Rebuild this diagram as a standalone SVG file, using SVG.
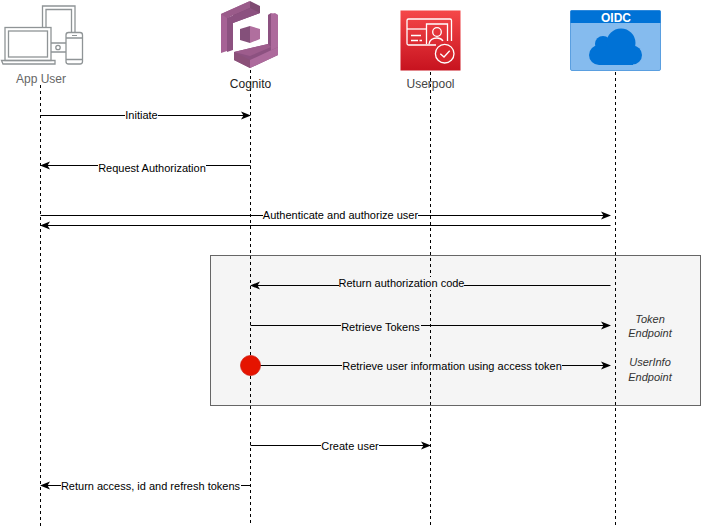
<svg xmlns="http://www.w3.org/2000/svg" width="702" height="528" viewBox="0 0 702 528">
<style>
text{font-family:"Liberation Sans",Arial,sans-serif;font-size:11px;text-anchor:middle}
.life{stroke:#000;stroke-width:1;stroke-dasharray:3 3;fill:none}
.msg{stroke:#000;stroke-width:1;fill:none;marker-end:url(#arrow)}
.lab{fill:#000;stroke:none}
.dev{fill:none;stroke:#8f9496;stroke-width:1.300}
.ep{font-style:italic;font-size:11px;fill:#333}
</style>
<defs>
<marker id="arrow" viewBox="0 0 10 10" refX="9" refY="5" markerWidth="10" markerHeight="10" markerUnits="userSpaceOnUse" orient="auto"><path d="M0 1L10 5L0 9L2.500 5Z" fill="#000"/></marker>
<linearGradient id="red" x1="0" y1="0" x2="0" y2="1"><stop offset="0" stop-color="#f54749"/><stop offset="1" stop-color="#c7131f"/></linearGradient>
</defs>
<rect width="702" height="528" fill="#fff"/>
<g id="highlight-box"><rect x="210.500" y="255.500" width="490" height="150" fill="#f5f5f5" stroke="#666"/></g>
<g id="lifelines">
<path class="life" d="M40.500 85V526"/>
<path class="life" d="M250.500 70V526"/>
<path class="life" d="M430.500 72V526"/>
<path class="life" d="M615.500 72V526"/>
</g>
<g id="app-user">
<path class="dev" d="M42.500 27V6H75V32M46 27V9.500H71.500V32"/>
<rect class="dev" x="5" y="27.500" width="46" height="33"/>
<rect class="dev" x="8.500" y="31" width="39" height="26"/>
<path class="dev" d="M1.500 60.500H55V64H3Z"/>
<path class="dev" d="M51 43H66M51 52H66"/>
<circle class="dev" cx="58" cy="47.500" r="2.200"/>
<rect class="dev" x="66" y="32.500" width="16.500" height="31.500" rx="2.500"/>
<path class="dev" d="M66 38H82.500M66 59.500H82.500"/>
<path d="M72 35.500H77" stroke="#8f9496"/>
<text x="41" y="83" style="font-size:12px;fill:#666">App User</text>
</g>
<g id="cognito">
<path d="M250 1L221 14V53L227 51V19Z" fill="#a66295"/>
<path d="M250 1V6L233 14V23L260 13V6Z" fill="#7f4a72"/>
<path d="M250 1L221 14L227 18L250 8Z" fill="#9a5b8a"/>
<path d="M227 18L250 8L260 13L233 23V50L227 52Z" fill="#8c5180"/>
<path d="M268 15L275 13L278 15V52L271 56V47L268 44Z" fill="#ad6a9c"/>
<path d="M268 15V44L234 52V60L250 68L278 55V47L271 50V13Z" fill="#8c5180"/>
<path d="M234 52L268 44L271 47L250 56Z" fill="#9d5c8c"/>
<path d="M234 52L250 60V68L234 60Z" fill="#8b5079"/>
<path d="M250 60L278 47V55L250 68Z" fill="#ad6a9c"/>
<path d="M271 13L278 15V47L271 50Z" fill="#ad6a9c"/>
<path d="M240 29L250 26V43L240 40Z" fill="#84507a"/>
<path d="M250 26L260 29V39L250 43Z" fill="#b06f9e"/>
<text x="250.500" y="88" style="font-size:12px;fill:#222">Cognito</text>
</g>
<g id="userpool">
<rect x="400.500" y="10.500" width="60" height="60" fill="url(#red)"/>
<g fill="none" stroke="#fff" stroke-width="1.300">
<path d="M436 45H408.500Q407 45 407 43.500V20.500Q407 19 408.500 19H450Q451.500 19 451.500 20.500V41"/>
<path d="M407 29H426"/>
<path d="M426.500 44V24H447.500V41"/>
<circle cx="437" cy="32" r="4.300"/>
<path d="M429 44Q430 38 437 38Q441 38 443 41"/>
<path d="M411 35.500H421M411 40.500H418M419.500 40.500H422"/>
<circle cx="444.700" cy="53.700" r="9.300" fill="#d9262c"/>
<path d="M440.300 53.700L444 57L449.700 50.700"/>
</g>
<text x="430.500" y="88" style="font-size:12px;fill:#444">Userpool</text>
</g>
<g id="oidc">
<rect x="570.500" y="10.500" width="90" height="60" rx="1.500" fill="#85bbee" stroke="#5a9fe0"/>
<rect x="570.500" y="10.500" width="90" height="12.500" fill="#0072d6"/>
<g fill="#0072d6"><circle cx="599" cy="55" r="10"/><circle cx="603" cy="44" r="8"/><circle cx="621" cy="43" r="14.500"/><circle cx="632.500" cy="55" r="9.500"/><rect x="599" y="47" width="34" height="18"/></g>
<text x="616" y="21.500" style="font-size:12px;font-weight:bold;fill:#fff">OIDC</text>
</g>
<g id="connectors">
<path class="msg" d="M40.500 115.500H250"/>
<path class="msg" d="M250.500 165.500H41"/>
<path class="msg" d="M40.500 215.500H610"/>
<path class="msg" d="M610.500 225.500H41"/>
<path class="msg" d="M610.500 285.500H251"/>
<path class="msg" d="M250.500 325.500H610"/>
<path class="msg" d="M250.500 365.500H610"/>
<path class="msg" d="M250.500 445.500H430"/>
<path class="msg" d="M250.500 485.500H41"/>
</g>
<g id="labels">
<rect x="125" y="109" width="33" height="13" fill="#fff"/><text class="lab" x="141.500" y="119">Initiate</text>
<rect x="98" y="162" width="108" height="13" fill="#fff"/><text class="lab" x="152" y="172">Request Authorization</text>
<rect x="263" y="209" width="155" height="13" fill="#fff"/><text class="lab" x="340.500" y="218.500">Authenticate and authorize user</text>
<rect x="339" y="277" width="125" height="13" fill="#f5f5f5"/><text class="lab" x="401.500" y="287">Return authorization code</text>
<rect x="341" y="320" width="80" height="13" fill="#f5f5f5"/><text class="lab" x="380.500" y="331">Retrieve Tokens</text>
<rect x="342" y="359" width="220" height="13" fill="#f5f5f5"/><text class="lab" x="452" y="369.500">Retrieve user information using access token</text>
<rect x="321" y="439" width="58" height="13" fill="#fff"/><text class="lab" x="350" y="450">Create user</text>
<rect x="61" y="479" width="180" height="13" fill="#fff"/><text class="lab" x="150.500" y="490">Return access, id and refresh tokens</text>
</g>
<g id="red-dot"><circle cx="250.500" cy="365.500" r="10" fill="#e51400" stroke="#d01c10" stroke-width="0.800"/></g>
<g id="endpoint-labels">
<text class="ep" x="650" y="323">Token</text>
<text class="ep" x="650" y="337">Endpoint</text>
<text class="ep" x="650" y="366">UserInfo</text>
<text class="ep" x="650" y="381">Endpoint</text>
</g>
</svg>
